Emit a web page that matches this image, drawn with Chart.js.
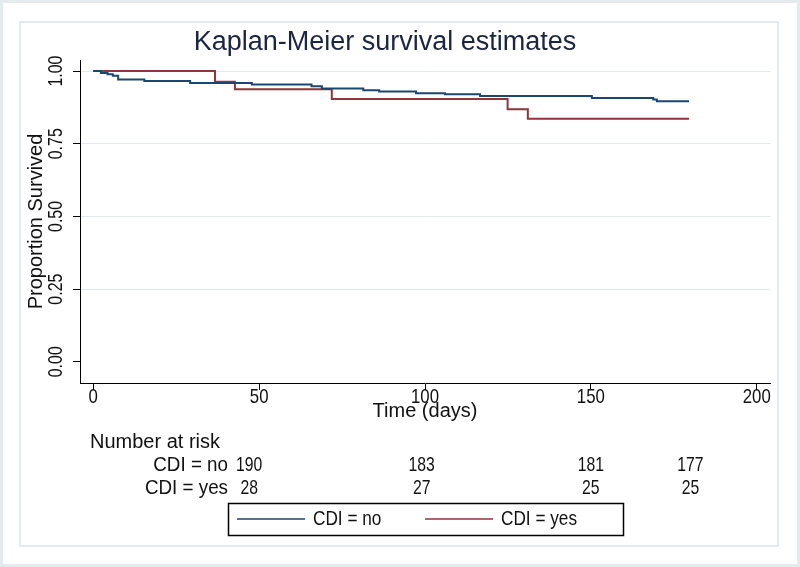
<!DOCTYPE html>
<html>
<head>
<meta charset="utf-8">
<style>
  html, body { margin: 0; padding: 0; background: #fff; }
  #wrap { width: 800px; height: 567px; }
</style>
<script src="https://cdn.jsdelivr.net/npm/chart.js@4.4.0/dist/chart.umd.min.js"></script>
</head>
<body>
<div id="wrap"><canvas id="km" width="800" height="567"></canvas></div>
<script>
"use strict";

// survival curves (time in days, proportion surviving)
let noTimes = [0, 2.3, 4.3, 5.9, 7.5, 15.4, 29.2, 47.8, 65.8, 68.9, 81.4, 86.2, 97.3, 106.0, 116.6, 150.3, 168.8, 169.9, 179.6];
let noSurv = [1, 0.993, 0.989, 0.984, 0.971, 0.966, 0.959, 0.954, 0.948, 0.940, 0.934, 0.930, 0.924, 0.920, 0.914, 0.907, 0.902, 0.896, 0.896];
let yesTimes = [0, 36.7, 42.7, 71.9, 124.9, 131.0, 179.6];
let yesSurv = [1, 0.963, 0.937, 0.904, 0.869, 0.836, 0.836];

let xTicks = [0, 50, 100, 150, 200];
let yTicks = [0, 0.25, 0.5, 0.75, 1];
let yTickLabels = ['0.00', '0.25', '0.50', '0.75', '1.00'];

// number at risk table
let riskTimes = [47, 99, 150, 180];
let riskNo = [190, 183, 181, 177];
let riskYes = [28, 27, 25, 25];
let groupLabels = ['CDI = no', 'CDI = yes'];

const FONT = '"Liberation Sans", Arial, sans-serif';
const TEXT = '#111111';
const BLUE = '#1a476f';
const RED = '#90353b';

let myChart = document.getElementById('km').getContext('2d');

function toPoints(times, surv) {
    return times.map((t, i) => ({ x: t, y: surv[i] }));
}

// text squeezed sideways a bit, Stata draws its digits narrow
function txt(c, s, x, y, size, align, sx, rot) {
    c.save();
    c.translate(x, y);
    if (rot) c.rotate(rot);
    c.scale(sx, 1);
    c.font = size + 'px ' + FONT;
    c.textAlign = align;
    c.textBaseline = 'middle';
    c.fillText(s, 0, 0);
    c.restore();
}

// frame, tick labels, risk table and boxed legend
let extrasPlugin = {
    id: 'extras',
    beforeDraw(chart) {
        let c = chart.ctx;
        c.save();
        c.strokeStyle = '#e3ebee';
        c.lineWidth = 3;
        c.strokeRect(1.5, 1.5, 797, 564);
        c.lineWidth = 2;
        c.strokeRect(20, 22, 758, 524);
        c.restore();
    },
    afterDraw(chart) {
        let c = chart.ctx;
        let xs = chart.scales.x;
        let ys = chart.scales.y;
        c.save();
        c.fillStyle = TEXT;

        // y tick labels, vertical like Stata
        for (let i = 0; i < yTicks.length; i++) {
            txt(c, yTickLabels[i], 56, ys.getPixelForValue(yTicks[i]), 20, 'center', 0.8, -Math.PI / 2);
        }
        // x tick labels
        for (let v of xTicks) {
            txt(c, String(v), xs.getPixelForValue(v), 397, 21, 'center', 0.8, 0);
        }

        // number at risk
        txt(c, 'Number at risk', 90, 442, 20, 'left', 1, 0);
        txt(c, groupLabels[0], 228, 465, 20, 'right', 0.94, 0);
        txt(c, groupLabels[1], 228, 488, 20, 'right', 0.94, 0);
        for (let i = 0; i < riskTimes.length; i++) {
            let px = xs.getPixelForValue(riskTimes[i]);
            txt(c, String(riskNo[i]), px, 465, 21, 'center', 0.75, 0);
            txt(c, String(riskYes[i]), px, 488, 21, 'center', 0.75, 0);
        }

        // legend
        c.strokeStyle = '#000';
        c.lineWidth = 1.5;
        c.strokeRect(228.5, 503.5, 395, 32);
        let sets = chart.data.datasets;
        let lx = [237, 425];
        for (let i = 0; i < sets.length; i++) {
            c.strokeStyle = sets[i].borderColor;
            c.lineWidth = 1.5;
            c.beginPath();
            c.moveTo(lx[i], 519);
            c.lineTo(lx[i] + 68, 519);
            c.stroke();
            txt(c, sets[i].label, lx[i] + 76, 519, 20, 'left', 0.86, 0);
        }
        c.restore();
    }
};

const data = {
    datasets: [{
        label: groupLabels[0],
        data: toPoints(noTimes, noSurv),
        borderColor: BLUE,
        borderWidth: 2,
        stepped: 'before',
        pointRadius: 0,
        fill: false
    }, {
        label: groupLabels[1],
        data: toPoints(yesTimes, yesSurv),
        borderColor: RED,
        borderWidth: 2,
        stepped: 'before',
        pointRadius: 0,
        fill: false
    }]
};

const config = {
    type: 'line',
    data: data,
    options: {
        responsive: false,
        animation: false,
        layout: { padding: { left: 0, right: 30, top: 0, bottom: 139 } },
        plugins: {
            legend: { display: false },
            tooltip: { enabled: false },
            title: {
                display: true,
                text: 'Kaplan-Meier survival estimates',
                color: '#1b2540',
                font: { family: FONT, size: 27, weight: 'normal', lineHeight: 1.2 },
                padding: { top: 26, bottom: 1.6 }
            }
        },
        scales: {
            x: {
                type: 'linear',
                min: -4,
                max: 204,
                afterBuildTicks: s => { s.ticks = xTicks.map(v => ({ value: v })); },
                afterFit: s => { s.height = 45; },
                grid: { drawOnChartArea: false, color: '#000', tickLength: 7, lineWidth: 1 },
                border: { color: '#000', width: 1 },
                ticks: { display: false },
                title: {
                    display: true,
                    text: 'Time (days)',
                    color: TEXT,
                    font: { family: FONT, size: 20, lineHeight: 1.2 },
                    padding: { top: 0, bottom: 5 }
                }
            },
            y: {
                type: 'linear',
                min: -0.073,
                max: 1.038,
                afterBuildTicks: s => { s.ticks = yTicks.map(v => ({ value: v })); },
                afterFit: s => { s.width = 80; },
                grid: {
                    color: c => (c.tick && c.tick.value === 0) ? 'rgba(0,0,0,0)' : '#e1e9ec',
                    tickColor: '#000',
                    tickLength: 7,
                    lineWidth: 1
                },
                border: { color: '#000', width: 1 },
                ticks: { display: false },
                title: {
                    display: true,
                    text: 'Proportion Survived',
                    color: TEXT,
                    font: { family: FONT, size: 20, lineHeight: 1.2 },
                    padding: { top: 24, bottom: 0 }
                }
            }
        }
    },
    plugins: [extrasPlugin]
};

new Chart(myChart, config);
</script>
</body>
</html>
